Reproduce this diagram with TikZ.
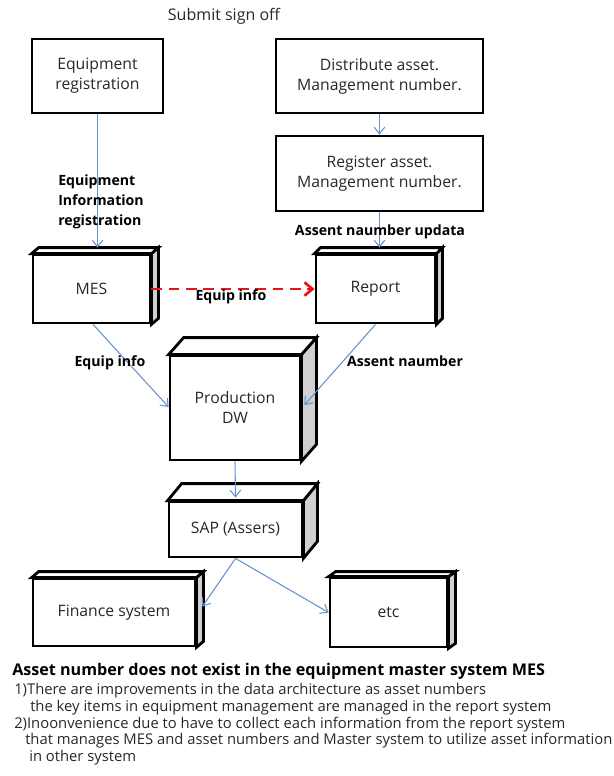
\documentclass[tikz,border=0pt]{standalone}
\usepackage{fontspec}
\setmainfont{Open Sans}
\usetikzlibrary{arrows.meta,calc}

\definecolor{flowblue}{RGB}{104,146,203}
\definecolor{sidegray}{RGB}{208,208,208}
\definecolor{inktext}{RGB}{40,40,40}
\definecolor{dashred}{RGB}{235,20,20}

% front face + top and right faces of a box drawn in perspective
\newcommand\boxdepth[3]{%
  \filldraw[fill=sidegray, boxline] (#1.north east) -- ++(#2,-#3)
    -- ($(#1.south east)+(#2,-#3)$) -- (#1.south east) -- cycle;
  \filldraw[fill=white, boxline] (#1.north west) -- ++(#2,-#3)
    -- ($(#1.north east)+(#2,-#3)$) -- (#1.north east) -- cycle;
}

\begin{document}
\begin{tikzpicture}[x=0.75pt,y=-0.75pt,
  boxline/.style={draw=black, line width=2.1pt, line join=miter},
  block/.style={boxline, fill=white, inner sep=0pt, align=center,
    text=inktext, font=\fontsize{11.8pt}{15pt}\selectfont},
  flow/.style={draw=flowblue, line width=0.8pt,
    -{Straight Barb[length=5pt,width=8pt,line width=0.8pt]}},
  infoflow/.style={draw=dashred, line width=2.2pt, dash pattern=on 8pt off 5pt,
    -{Straight Barb[length=6pt,width=10pt,line width=2pt]}},
  tag/.style={font=\fontsize{10.6pt}{15pt}\selectfont\bfseries, text=black,
    inner sep=0pt, align=left},
  note/.style={font=\fontsize{11.1pt}{12pt}\selectfont, text=inktext,
    inner sep=0pt, anchor=base west},
]
\useasboundingbox (0,0) rectangle (614,776);

\node[font=\fontsize{12pt}{15pt}\selectfont, text=inktext] (title) at (224,16) {Submit sign off};

% flat blocks of the upper part
\node[block, minimum width={131*0.75pt}, minimum height={74*0.75pt}] (eqreg) at (97.5,76)
  {Equipment\\registration};
\node[block, minimum width={207*0.75pt}, minimum height={74*0.75pt}] (dist) at (379.5,76)
  {Distribute asset.\\Management number.};
\node[block, minimum width={207*0.75pt}, minimum height={75*0.75pt}] (regi) at (379.5,173.5)
  {Register asset.\\Management number.};

% systems
\node[block, minimum width={117*0.75pt}, minimum height={68*0.75pt}] (mes) at (91.5,289) {MES};
\boxdepth{mes}{7}{6}
\node[block, minimum width={119*0.75pt}, minimum height={68*0.75pt}] (report) at (375.5,289) {Report};
\boxdepth{report}{6}{6}
\node[block, minimum width={130*0.75pt}, minimum height={104*0.75pt}] (prod) at (235,408)
  {Production\\DW};
\boxdepth{prod}{15}{17}
\node[block, minimum width={133*0.75pt}, minimum height={55*0.75pt}] (sap) at (235.5,529.5)
  {SAP (Assers)};
\boxdepth{sap}{14}{17}
\node[block, minimum width={162*0.75pt}, minimum height={67*0.75pt}] (fin) at (114,612.5)
  {Finance system};
\boxdepth{fin}{7}{6}
\node[block, minimum width={117*0.75pt}, minimum height={69*0.75pt}] (etc) at (388.5,612.5) {etc};
\boxdepth{etc}{7}{5}

% connectors
\coordinate (eqdown) at (eqreg.south);
\draw[flow] (eqdown) -- ($(eqdown |- mes.north)+(0,-6)$);
\draw[flow] (dist.south) -- (regi.north);
\draw[flow] (regi.south) -- ($(regi.south |- report.north)+(0,-6)$);
\draw[infoflow] (mes.east) -- (report.west);
\draw[flow] ($(mes.south)+(1.5,0)$) -- ($(prod.west)+(0,-1)$);
\draw[flow] (report.south) -- ($(prod.east)+(3,-3)$);
\draw[flow] (prod.south) -- ($(sap.north)+(0,-3)$);
\draw[flow] (sap.south) -- ($(fin.east)+(6,-6)$);
\draw[flow] (sap.south) -- (etc.west);

% connector labels
\node[tag, anchor=west] (lblreg) at (58,202) {Equipment\\Information\\registration};
\node[tag] (lblupd) at (380,232) {Assent naumber updata};
\node[tag] (lblinfo) at (231,297) {Equip info};
\node[tag] (lblinfo2) at (110,363) {Equip info};
\node[tag] (lblnum) at (405,361) {Assent naumber};

% remarks
\node[note, font=\fontsize{12.1pt}{13pt}\selectfont\bfseries, text=black] (n0) at (12,675)
  {Asset number does not exist in the equipment master system MES};
\node[note] (n1) at (14,694) {1)There are improvements in the data architecture as asset numbers};
\node[note] (n2) at (30,711) {the key items in equipment management are managed in the report system};
\node[note] (n3) at (14,728) {2)Inoonvenience due to have to collect each information from the report system};
\node[note] (n4) at (25,744) {that manages MES and asset numbers and Master system to utilize asset information};
\node[note] (n5) at (29,761) {in other system};
\end{tikzpicture}
\end{document}
